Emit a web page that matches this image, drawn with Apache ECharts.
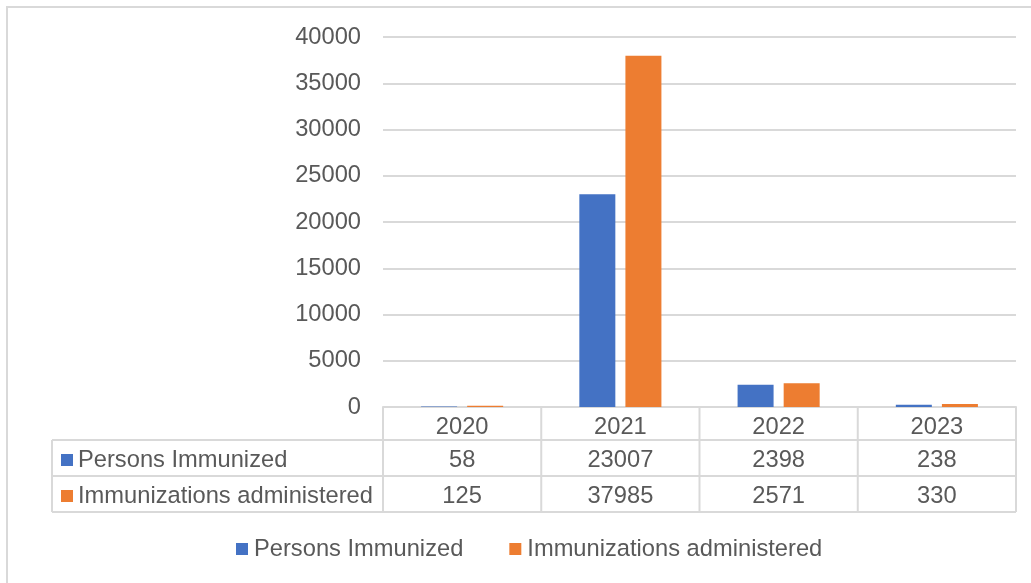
<!DOCTYPE html>
<html>
<head>
<meta charset="utf-8">
<script src="https://cdn.jsdelivr.net/npm/echarts@6/dist/echarts.min.js"></script>
<style>
  html, body { margin: 0; padding: 0; background: #fff; }
  #chart { width: 1031px; height: 583px; }
</style>
</head>
<body>
<div id="chart"></div>
<script>
// 数据
var years = ["2020", "2021", "2022", "2023"];
var seriesNames = ["Persons Immunized", "Immunizations administered"];
var personsImmunized = [58, 23007, 2398, 238];
var immunizationsAdministered = [125, 37985, 2571, 330];
var colors = ["#4472c4", "#ed7d31"];

var FONT = "Liberation Sans, Arial, sans-serif";
var TXT = "#595959";
var LINE = "#d9d9d9";
var FS = 23.7;

var chart = echarts.init(document.getElementById("chart"));

// 绘图区位置
var plotLeft = 383, plotRight = 1016, plotTop = 37, plotBottom = 407;
var tableLeft = 52;
var rowLines = [440, 476, 512];

var option = {
  animation: false,
  grid: {
    left: plotLeft,
    right: 1031 - plotRight,
    top: plotTop,
    bottom: 583 - plotBottom,
    containLabel: false,
  },
  legend: {
    data: seriesNames,
    left: 231,
    top: 532,
    icon: "rect",
    itemWidth: 12,
    itemHeight: 12,
    itemGap: 46,
    textStyle: { fontFamily: FONT, fontSize: FS, color: TXT, padding: [0, 0, 0, 1] },
  },
  xAxis: {
    type: "category",
    data: years,
    axisLine: { lineStyle: { color: LINE, width: 2 } },
    axisTick: { show: false },
    axisLabel: {
      margin: 8,
      fontFamily: FONT,
      fontSize: FS,
      color: TXT,
    },
  },
  yAxis: {
    type: "value",
    min: 0,
    max: 40000,
    interval: 5000,
    axisLine: { show: false },
    axisTick: { show: false },
    splitLine: { lineStyle: { color: LINE, width: 2 } },
    axisLabel: {
      margin: 22,
      fontFamily: FONT,
      fontSize: FS,
      color: TXT,
      padding: [4, 0, 0, 0],
      formatter: function (v) { return String(v); },
    },
  },
  series: [
    {
      name: seriesNames[0],
      type: "bar",
      data: personsImmunized,
      barWidth: 36,
      barGap: "28%",
      itemStyle: { color: colors[0] },
    },
    {
      name: seriesNames[1],
      type: "bar",
      data: immunizationsAdministered,
      barWidth: 36,
      itemStyle: { color: colors[1] },
    },
  ],
};

chart.setOption(option);

// 数据表
var rows = [personsImmunized, immunizationsAdministered];
var rowCenters = [460, 496];
var colW = (plotRight - plotLeft) / years.length;
var graphic = [];

// 外框
graphic.push({
  type: "rect",
  shape: { x: 7, y: 7, width: 1030, height: 590 },
  style: { fill: null, stroke: LINE, lineWidth: 2 },
  silent: true,
});

// 竖线
for (var i = 0; i <= years.length; i++) {
  var x = plotLeft + colW * i;
  graphic.push({
    type: "line",
    shape: { x1: x, y1: plotBottom, x2: x, y2: rowLines[2] },
    style: { stroke: LINE, lineWidth: 2 },
    silent: true,
  });
}
graphic.push({
  type: "line",
  shape: { x1: tableLeft, y1: rowLines[0], x2: tableLeft, y2: rowLines[2] },
  style: { stroke: LINE, lineWidth: 2 },
  silent: true,
});
// 横线
rowLines.forEach(function (y) {
  graphic.push({
    type: "line",
    shape: { x1: tableLeft, y1: y, x2: plotRight, y2: y },
    style: { stroke: LINE, lineWidth: 2 },
    silent: true,
  });
});

// 行标题和数值
rows.forEach(function (vals, r) {
  var cy = rowCenters[r];
  graphic.push({
    type: "rect",
    shape: { x: 61, y: cy - 6, width: 12, height: 12 },
    style: { fill: colors[r] },
    silent: true,
  });
  graphic.push({
    type: "text",
    x: 78,
    y: cy,
    style: {
      text: seriesNames[r],
      font: FS + "px " + FONT,
      fill: TXT,
      verticalAlign: "middle",
    },
    silent: true,
  });
  vals.forEach(function (v, c) {
    var px = chart.convertToPixel({ xAxisIndex: 0 }, years[c]);
    graphic.push({
      type: "text",
      x: px,
      y: cy,
      style: {
        text: String(v),
        font: FS + "px " + FONT,
        fill: TXT,
        align: "center",
        verticalAlign: "middle",
      },
      silent: true,
    });
  });
});

chart.setOption({ graphic: graphic });
</script>
</body>
</html>
